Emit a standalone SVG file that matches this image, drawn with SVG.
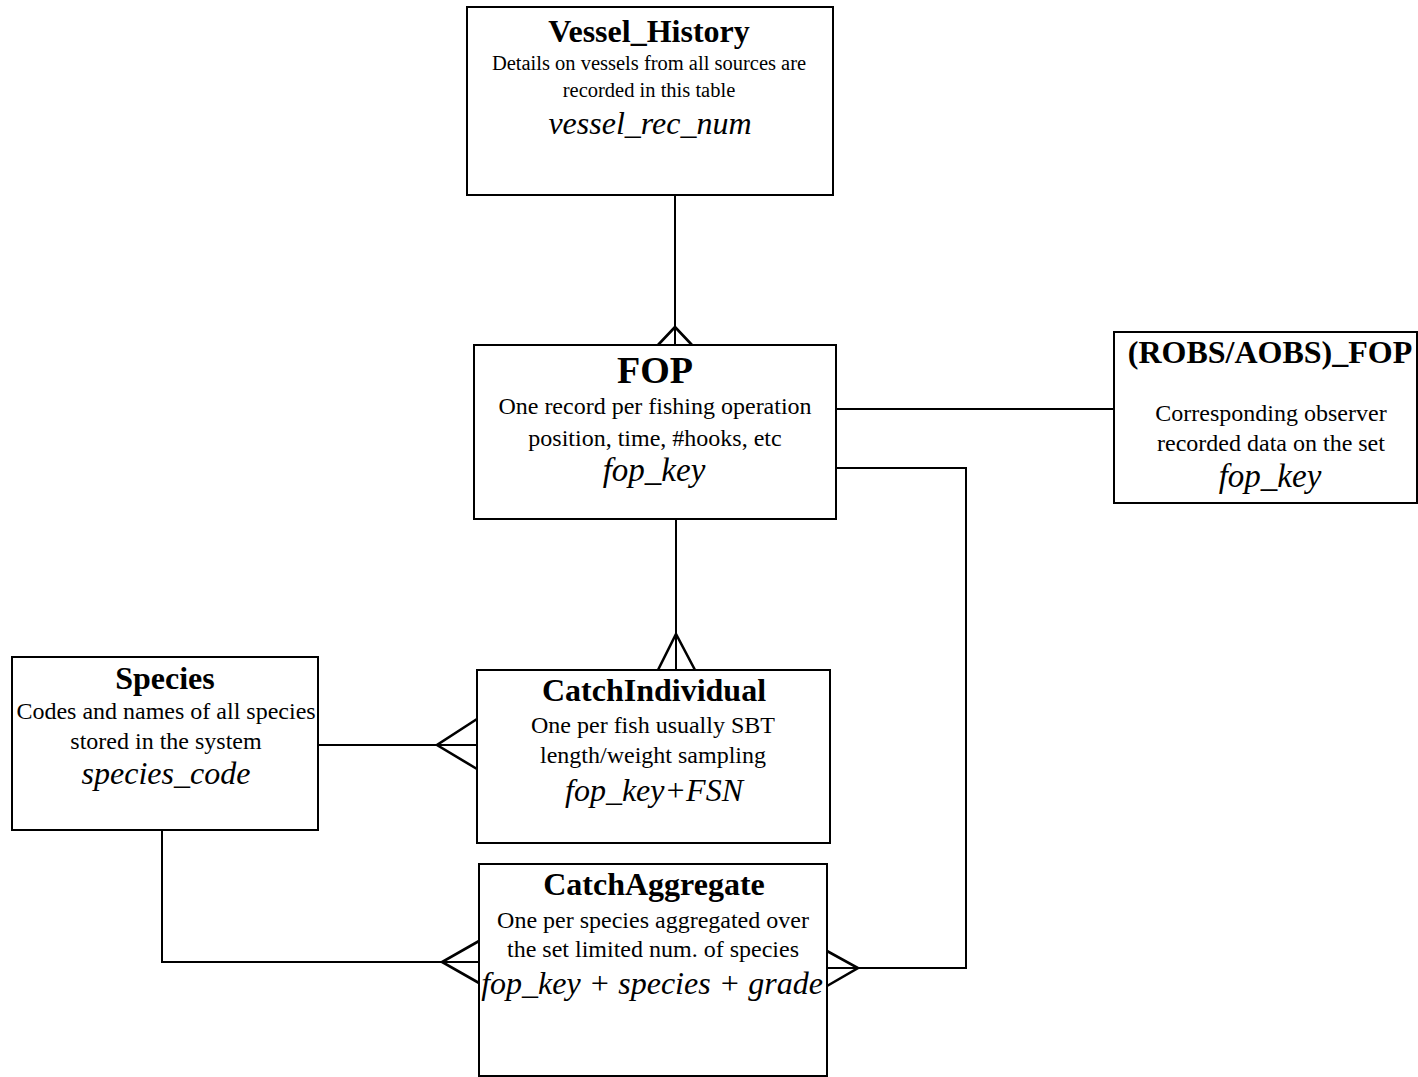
<svg xmlns="http://www.w3.org/2000/svg" width="1418" height="1077" viewBox="0 0 1418 1077">
<style>
.box{fill:#fff;stroke:#000;stroke-width:2}
.t{font-family:"Liberation Serif","Times New Roman",serif;text-anchor:middle;fill:#000}
.h{font-weight:bold;font-size:32px}
.d{font-size:24px}
.k{font-style:italic;font-size:32px}
.c{fill:none;stroke:#000;stroke-width:2}
.f{fill:none;stroke:#000;stroke-width:2.6}
</style>
<rect width="1418" height="1077" fill="#fff"/>
<g id="connectors">
<path class="c" d="M675 195V345"/><path class="f" d="M658 345L675 327L692 345"/>
<path class="c" d="M676 519V670"/><path class="f" d="M658 670L676 634L695 670"/>
<path class="c" d="M312 745H477"/><path class="f" d="M477 719L437 745L477 769"/>
<path class="c" d="M162 830V962H479"/><path class="f" d="M479 941L442 962L479 983"/>
<path class="c" d="M836 468H966V968H827"/><path class="f" d="M827 951L858 968L827 986"/>
<path class="c" d="M836 409H1114"/>
</g>
<g id="vessel_history">
<rect class="box" x="467" y="7" width="366" height="188"/>
<text class="t h" x="649" y="42">Vessel_History</text>
<text class="t" x="649" y="70" font-size="20.5">Details on vessels from all sources are</text>
<text class="t" x="649" y="97" font-size="20.5">recorded in this table</text>
<text class="t k" x="650" y="134">vessel_rec_num</text>
</g>
<g id="fop">
<rect class="box" x="474" y="345" width="362" height="174"/>
<text class="t h" x="655" y="383" style="font-size:38px">FOP</text>
<text class="t d" x="655" y="414">One record per fishing operation</text>
<text class="t d" x="655" y="446">position, time, #hooks, etc</text>
<text class="t k" x="654" y="481" style="font-size:33px">fop_key</text>
</g>
<g id="robs_aobs_fop">
<rect class="box" x="1114" y="332" width="303" height="171"/>
<text class="t h" x="1270" y="363">(ROBS/AOBS)_FOP</text>
<text class="t d" x="1271" y="421">Corresponding observer</text>
<text class="t d" x="1271" y="451">recorded data on the set</text>
<text class="t k" x="1270" y="487" style="font-size:33px">fop_key</text>
</g>
<g id="species">
<rect class="box" x="12" y="657" width="306" height="173"/>
<text class="t h" x="165" y="689">Species</text>
<text class="t d" x="166" y="719">Codes and names of all species</text>
<text class="t d" x="166" y="749">stored in the system</text>
<text class="t k" x="166" y="784">species_code</text>
</g>
<g id="catch_individual">
<rect class="box" x="477" y="670" width="353" height="173"/>
<text class="t h" x="654" y="701">CatchIndividual</text>
<text class="t d" x="653" y="733">One per fish usually SBT</text>
<text class="t d" x="653" y="763">length/weight sampling</text>
<text class="t k" x="654" y="801">fop_key+FSN</text>
</g>
<g id="catch_aggregate">
<rect class="box" x="479" y="864" width="348" height="212"/>
<text class="t h" x="654" y="895">CatchAggregate</text>
<text class="t d" x="653" y="928">One per species aggregated over</text>
<text class="t d" x="653" y="957">the set limited num. of species</text>
<text class="t k" x="652" y="994">fop_key + species + grade</text>
</g>
</svg>
